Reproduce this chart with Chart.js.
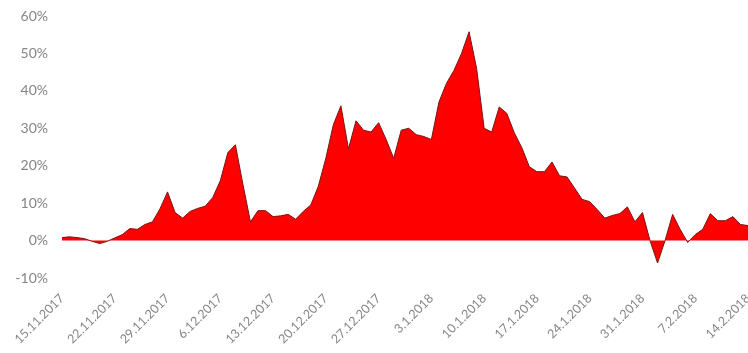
<!DOCTYPE html>
<html>
<head>
<meta charset="utf-8">
<script src="https://cdn.jsdelivr.net/npm/chart.js@4/dist/chart.umd.min.js"></script>
<style>
  html, body { margin: 0; padding: 0; background: #ffffff; overflow: hidden; }
  #wrap { position: relative; width: 748px; height: 353px; }
</style>
</head>
<body>
<div id="wrap"><canvas id="chart"></canvas></div>
<script>
// Daily dates, 15.11.2017 – 14.2.2018
const days = [
  '15.11.2017','16.11.2017','17.11.2017','18.11.2017','19.11.2017','20.11.2017','21.11.2017',
  '22.11.2017','23.11.2017','24.11.2017','25.11.2017','26.11.2017','27.11.2017','28.11.2017',
  '29.11.2017','30.11.2017','1.12.2017','2.12.2017','3.12.2017','4.12.2017','5.12.2017',
  '6.12.2017','7.12.2017','8.12.2017','9.12.2017','10.12.2017','11.12.2017','12.12.2017',
  '13.12.2017','14.12.2017','15.12.2017','16.12.2017','17.12.2017','18.12.2017','19.12.2017',
  '20.12.2017','21.12.2017','22.12.2017','23.12.2017','24.12.2017','25.12.2017','26.12.2017',
  '27.12.2017','28.12.2017','29.12.2017','30.12.2017','31.12.2017','1.1.2018','2.1.2018',
  '3.1.2018','4.1.2018','5.1.2018','6.1.2018','7.1.2018','8.1.2018','9.1.2018',
  '10.1.2018','11.1.2018','12.1.2018','13.1.2018','14.1.2018','15.1.2018','16.1.2018',
  '17.1.2018','18.1.2018','19.1.2018','20.1.2018','21.1.2018','22.1.2018','23.1.2018',
  '24.1.2018','25.1.2018','26.1.2018','27.1.2018','28.1.2018','29.1.2018','30.1.2018',
  '31.1.2018','1.2.2018','2.2.2018','3.2.2018','4.2.2018','5.2.2018','6.2.2018',
  '7.2.2018','8.2.2018','9.2.2018','10.2.2018','11.2.2018','12.2.2018','13.2.2018',
  '14.2.2018'
];

// Weekly labels shown on the date axis
const tickLabels = [
  '15.11.2017','22.11.2017','29.11.2017','6.12.2017','13.12.2017','20.12.2017','27.12.2017',
  '3.1.2018','10.1.2018','17.1.2018','24.1.2018','31.1.2018','7.2.2018','14.2.2018'
];

// Daily change in percent
const change = [
  0.8, 1.0, 0.8, 0.5, -0.2, -0.8, -0.2,
  0.7, 1.6, 3.2, 3.0, 4.3, 5.0, 8.5,
  13.0, 7.5, 6.0, 7.8, 8.6, 9.2, 11.5,
  16.0, 23.5, 25.6, 15.0, 5.0, 8.0, 8.0,
  6.4, 6.6, 7.0, 5.7, 7.8, 9.5, 14.5,
  22.0, 31.0, 36.0, 24.5, 32.0, 29.5, 29.0,
  31.5, 27.0, 22.0, 29.5, 30.0, 28.3, 27.8,
  27.0, 37.0, 42.0, 45.5, 50.0, 55.8, 46.0,
  30.0, 29.0, 35.7, 34.0, 28.8, 24.8, 19.7,
  18.4, 18.4, 21.0, 17.3, 17.0, 14.0, 11.0,
  10.4, 8.3, 6.0, 6.7, 7.2, 9.0, 5.0,
  7.5, 0.0, -6.0, 0.0, 7.0, 3.0, -0.5,
  1.6, 3.0, 7.2, 5.3, 5.3, 6.4, 4.3,
  4.0
];

// Percentage axis
const yMin = -10, yMax = 60, yStep = 10;

const family = 'Lato, "Open Sans", sans-serif';
const textColor = '#858585';

new Chart(document.getElementById('chart'), {
  type: 'line',
  data: {
    labels: days,
    datasets: [{
      data: change,
      fill: 'origin',
      backgroundColor: '#ff0000',
      borderColor: '#7a1515',
      borderWidth: 1,
      pointRadius: 0,
      tension: 0
    }]
  },
  options: {
    responsive: true,
    maintainAspectRatio: false,
    animation: false,
    layout: { padding: { top: 16, right: 0, bottom: 0, left: 0 } },
    plugins: { legend: { display: false }, tooltip: { enabled: false } },
    scales: {
      x: {
        type: 'category',
        offset: false,
        grid: { display: false, drawTicks: false },
        border: { display: false },
        ticks: {
          autoSkip: false,
          maxRotation: 45,
          minRotation: 45,
          padding: 13,
          color: textColor,
          font: { family: family, size: 12.5 },
          callback: function (value) {
            const lbl = this.getLabelForValue(value);
            return tickLabels.includes(lbl) ? lbl : '';
          }
        },
        afterFit: function (scale) {
          scale.height = 75;
          scale.paddingLeft = 0;
          scale.paddingRight = 0;
        }
      },
      y: {
        min: yMin,
        max: yMax,
        grid: { display: false, drawTicks: false },
        border: { display: false },
        ticks: {
          stepSize: yStep,
          padding: 14,
          color: textColor,
          font: { family: family, size: 14 },
          callback: v => v + '%'
        },
        afterFit: function (scale) {
          scale.width = 62;
          scale.paddingTop = 0;
          scale.paddingBottom = 0;
        }
      }
    }
  }
});
</script>
</body>
</html>
